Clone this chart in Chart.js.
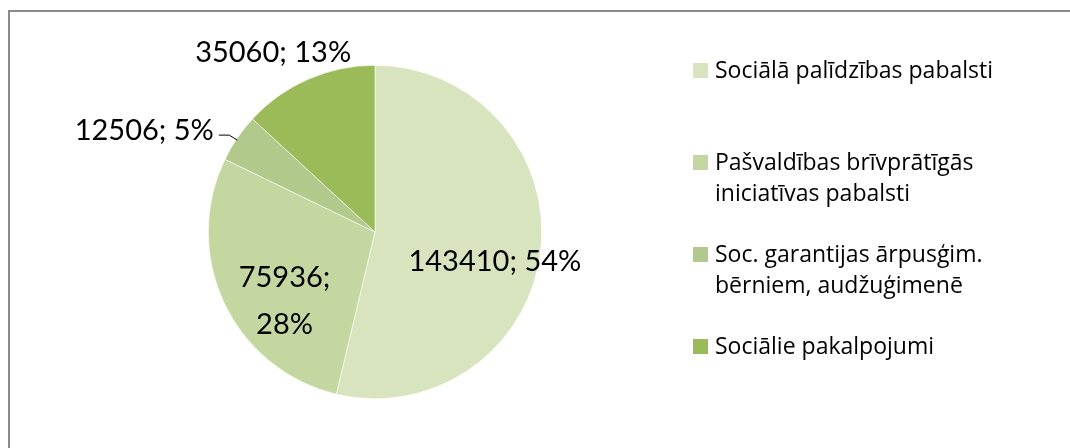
<!DOCTYPE html>
<html>
<head>
<meta charset="utf-8">
<script src="https://cdn.jsdelivr.net/npm/chart.js@4/dist/chart.umd.min.js"></script>
<style>
  html, body { margin: 0; padding: 0; background: #fff; }
  #wrap { position: relative; width: 1070px; height: 448px; overflow: hidden; }
  #frame { position: absolute; left: 8px; top: 10px; width: 1200px; height: 600px;
           border-top: 2px solid #8a8a8a; border-left: 2px solid #8a8a8a; }
  canvas { position: absolute; left: 0; top: 0; }
</style>
</head>
<body>
<div id="wrap">
  <div id="frame"></div>
  <canvas id="pie" width="1070" height="448"></canvas>
</div>
<script>
// --- Data ---
const categories = [
  ["Sociālā palīdzības pabalsti"],
  ["Pašvaldības brīvprātīgās", "iniciatīvas pabalsti"],
  ["Soc. garantijas ārpusģim.", "bērniem, audžuģimenē"],
  ["Sociālie pakalpojumi"]
];
const amounts = [143410, 75936, 12506, 35060];
const percents = [54, 28, 5, 13];
const sliceColors = ["#d7e4bd", "#c4d7a0", "#b1c98a", "#9bbb59"];

const LABEL_FONT = "29px Lato, 'Liberation Sans', sans-serif";
const LEGEND_FONT = "23px 'Open Sans', 'Liberation Sans', sans-serif";

// where each data label sits: point at mid-angle * radius factor, then shifted
const labelPlacement = [
  { f: 0.70, dx: 4, dy: 16, lines: (v, p) => [v + "; " + p + "%"] },
  { f: 0.70, dx: 15, dy: 19, lines: (v, p) => [v + ";", p + "%"] },
  { f: 1.00, dx: -93, dy: -7, lines: (v, p) => [v + "; " + p + "%"], leader: true },
  { f: 1.00, dx: -35, dy: -27, lines: (v, p) => [v + "; " + p + "%"] }
];

// --- Plugins ---
const dataLabels = {
  id: "dataLabels",
  afterDatasetsDraw(chart) {
    const ctx = chart.ctx;
    const meta = chart.getDatasetMeta(0);
    ctx.save();
    ctx.fillStyle = "#000";
    ctx.font = LABEL_FONT;
    ctx.textAlign = "center";
    ctx.textBaseline = "middle";
    meta.data.forEach((arc, i) => {
      const pl = labelPlacement[i];
      const mid = (arc.startAngle + arc.endAngle) / 2;
      const ex = arc.x + Math.cos(mid) * arc.outerRadius * pl.f;
      const ey = arc.y + Math.sin(mid) * arc.outerRadius * pl.f;
      const x = ex + pl.dx, y = ey + pl.dy;
      const lines = pl.lines(amounts[i], percents[i]);
      const lh = 47;
      lines.forEach((t, j) => {
        ctx.fillText(t, x, y + (j - (lines.length - 1) / 2) * lh);
      });
      if (pl.leader) {
        const w = ctx.measureText(lines[0]).width;
        ctx.strokeStyle = "#000";
        ctx.lineWidth = 1;
        ctx.beginPath();
        ctx.moveTo(x + w / 2 + 5, ey - 3);
        ctx.lineTo(ex - 8, ey - 3);
        ctx.lineTo(ex, ey + 2);
        ctx.stroke();
      }
    });
    ctx.restore();
  }
};

const sideLegend = {
  id: "sideLegend",
  afterDraw(chart) {
    const ctx = chart.ctx;
    const colors = chart.data.datasets[0].backgroundColor;
    ctx.save();
    ctx.font = LEGEND_FONT;
    ctx.textBaseline = "middle";
    ctx.textAlign = "left";
    chart.data.labels.forEach((lab, i) => {
      const y = 71 + i * 92;
      ctx.fillStyle = colors[i];
      ctx.fillRect(693, y - 8, 15, 15);
      ctx.fillStyle = "#000";
      lab.forEach((line, j) => ctx.fillText(line, 715, y + j * 31));
    });
    ctx.restore();
  }
};

// --- Chart ---
new Chart(document.getElementById("pie"), {
  type: "pie",
  data: {
    labels: categories,
    datasets: [{
      data: amounts,
      backgroundColor: sliceColors,
      borderColor: "#ffffff",
      borderWidth: 0.6
    }]
  },
  options: {
    responsive: false,
    animation: false,
    layout: { padding: { top: 65, bottom: 49, left: 208, right: 528 } },
    plugins: { legend: { display: false }, tooltip: { enabled: false } }
  },
  plugins: [dataLabels, sideLegend]
});
</script>
</body>
</html>
